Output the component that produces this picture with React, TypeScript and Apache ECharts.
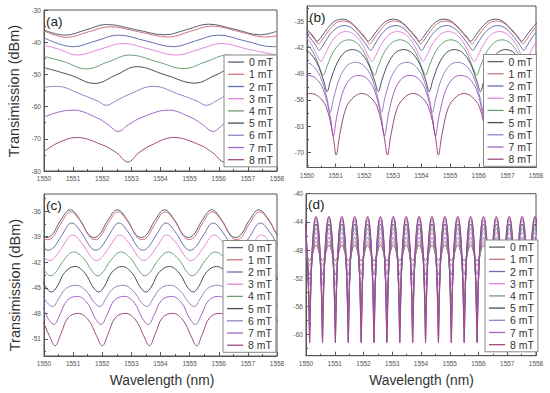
import React, { useEffect, useRef } from "react";
import * as echarts from "echarts";

const FIELDS = ["0 mT", "1 mT", "2 mT", "3 mT", "4 mT", "5 mT", "6 mT", "7 mT", "8 mT"];
const COLORS = ["#595e72", "#cc747c", "#6671ae", "#e286dc", "#6aa276", "#4c4c60", "#9484c6", "#a264c6", "#9c4a80"];
const WL_MIN = 1550;
const WL_MAX = 1558;

// ---------- panel (a): points ----------
const a0 = [[1550, -36.2], [1550.72, -37.8], [1551.43, -36.2], [1552.15, -34.5], [1553.15, -36.1], [1554.15, -37.7], [1554.9, -36.1], [1555.65, -34.4], [1556.55, -36.0], [1557.42, -37.7], [1558, -36.6]];
const a1 = [[1550, -36.5], [1550.78, -38.5], [1551.52, -36.8], [1552.27, -35.2], [1553.27, -36.8], [1554.27, -38.4], [1555.0, -36.7], [1555.76, -35.0], [1556.7, -36.7], [1557.6, -38.4], [1558, -38.0]];
const a2 = [[1550, -38.6], [1551.0, -41.4], [1551.78, -39.6], [1552.55, -37.8], [1553.5, -39.6], [1554.44, -41.4], [1555.2, -39.6], [1555.98, -37.8], [1556.9, -39.6], [1557.85, -41.4], [1558, -41.3]];
const a3 = [[1550, -40.9], [1550.55, -42.3], [1551.12, -44.0], [1551.92, -42.2], [1552.72, -40.4], [1553.63, -42.2], [1554.55, -44.0], [1555.33, -42.2], [1556.1, -40.4], [1557.0, -42.2], [1558, -44.0]];
const a4 = [[1550, -44.4], [1550.7, -46.1], [1551.46, -48.3], [1552.2, -46.1], [1552.95, -44.0], [1553.9, -46.1], [1554.8, -48.2], [1555.55, -46.1], [1556.3, -44.0], [1557.2, -46.1], [1558, -48.0]];
const a5 = [[1550, -47.9], [1550.9, -50.2], [1551.75, -52.8], [1552.47, -50.2], [1553.18, -47.6], [1554.18, -50.2], [1555.18, -52.7], [1555.9, -50.2], [1556.6, -47.6], [1557.5, -50.2], [1558, -51.8]];
const a6 = [[1550, -54.0], [1550.43, -53.7], [1551.3, -56.3], [1551.85, -58.3], [1552.15, -59.6], [1552.45, -58.3], [1552.95, -56.1], [1553.75, -53.7], [1554.67, -56.3], [1555.25, -58.3], [1555.58, -59.6], [1555.9, -58.3], [1556.35, -56.1], [1557.1, -53.7], [1558, -55.0]];
const a7 = [[1550, -63.3], [1550.5, -61.7], [1551.0, -61.1], [1551.8, -63.4], [1552.2, -65.6], [1552.55, -67.7], [1552.9, -65.6], [1553.4, -63.2], [1554.27, -61.1], [1555.05, -63.4], [1555.45, -65.6], [1555.8, -67.7], [1556.15, -65.6], [1556.7, -63.2], [1557.55, -61.1], [1558, -61.6]];
const a8 = [[1550, -74.0], [1550.45, -71.4], [1551.12, -69.6], [1552.0, -71.9], [1552.5, -74.4], [1552.88, -77.2], [1553.25, -74.4], [1553.7, -71.9], [1554.44, -69.6], [1555.35, -71.9], [1555.8, -74.4], [1556.2, -77.2], [1556.6, -74.4], [1557.0, -71.9], [1557.76, -69.6], [1558, -69.8]];
const A_SERIES = [a0, a1, a2, a3, a4, a5, a6, a7, a8];

// ---------- panel (b): fringe dips read per curve, and one fringe profile per curve ----------
const B_OFFSETS = [0, 0.12, 0.35, 0.62, 0.89, 1.16, 1.43, 1.665];
const B_DIPS = [
  [1548.58, 1550.36, 1552.15, 1553.93, 1555.72, 1557.5, 1559.29],
  [1548.62, 1550.4, 1552.19, 1553.97, 1555.76, 1557.54, 1559.33],
  [1548.65, 1550.43, 1552.22, 1554.0, 1555.79, 1557.57, 1559.36],
  [1548.71, 1550.49, 1552.28, 1554.06, 1555.85, 1557.63, 1559.42],
  [1548.79, 1550.57, 1552.36, 1554.14, 1555.93, 1557.71, 1559.5],
  [1548.92, 1550.7, 1552.49, 1554.27, 1556.06, 1557.84, 1559.63],
  [1549.03, 1550.81, 1552.6, 1554.38, 1556.17, 1557.95, 1559.74],
  [1549.14, 1550.92, 1552.71, 1554.49, 1556.28, 1558.06],
  [1549.24, 1551.02, 1552.81, 1554.59, 1556.37, 1558.15],
];
const B_PROFILES = [
  [-40.4, -39.4, -37.0, -35.0, -34.5, -35.3, -37.3, -39.3],
  [-41.1, -40.1, -37.6, -35.5, -35.0, -35.8, -37.9, -40.0],
  [-42.8, -41.6, -38.8, -36.8, -36.2, -37.0, -39.2, -41.6],
  [-45.8, -44.2, -40.8, -38.4, -37.8, -38.6, -41.0, -44.5],
  [-49.5, -47.2, -43.2, -40.7, -40.0, -40.8, -43.4, -47.6],
  [-53.8, -50.9, -46.2, -43.3, -42.6, -43.4, -46.2, -51.0],
  [-59.3, -55.5, -49.8, -46.7, -46.0, -46.8, -49.7, -55.4],
  [-65.6, -60.4, -53.5, -50.2, -49.5, -50.2, -53.3, -60.2],
  [-70.7, -65.4, -58.0, -55.2, -54.3, -55.1, -57.8, -65.3],
];

// ---------- panel (c) ----------
const C_OFFSETS = [0, 0.2, 0.45, 0.8, 1.15, 1.42];
const C_DIPS = [
  [1548.48, 1550.1, 1551.72, 1553.34, 1554.96, 1556.58, 1558.2],
  [1548.5, 1550.12, 1551.74, 1553.36, 1554.98, 1556.6, 1558.22],
  [1548.53, 1550.15, 1551.77, 1553.39, 1555.01, 1556.63, 1558.25],
  [1548.56, 1550.18, 1551.8, 1553.42, 1555.04, 1556.66, 1558.28],
  [1548.6, 1550.22, 1551.84, 1553.46, 1555.08, 1556.7, 1558.32],
  [1548.64, 1550.26, 1551.88, 1553.5, 1555.12, 1556.74, 1558.36],
  [1548.68, 1550.3, 1551.92, 1553.54, 1555.16, 1556.78, 1558.4],
  [1548.72, 1550.34, 1551.96, 1553.58, 1555.2, 1556.82, 1558.44],
  [1548.76, 1550.38, 1552.0, 1553.62, 1555.24, 1556.86, 1558.48],
];
const C_PROFILES = [
  [-39.1, -38.7, -37.2, -35.85, -37.1, -38.7],
  [-39.35, -39.0, -37.5, -36.1, -37.3, -38.9],
  [-40.6, -40.2, -38.9, -37.4, -38.6, -40.1],
  [-41.8, -41.4, -40.2, -38.8, -39.9, -41.3],
  [-43.6, -43.1, -41.8, -40.8, -41.6, -43.0],
  [-45.5, -44.8, -43.2, -42.5, -43.3, -44.9],
  [-47.2, -46.3, -45.1, -44.7, -45.4, -46.7],
  [-49.3, -48.2, -46.5, -46.0, -46.8, -48.6],
  [-51.8, -50.4, -48.5, -48.0, -48.8, -50.6],
];

// ---------- panel (d) ----------
const D_OFFSETS = [0, 0.013, 0.027, 0.045, 0.09, 0.134, 0.179, 0.224, 0.269, 0.314, 0.358, 0.403, 0.421, 0.435];
const D_DIPS = [1549.678, 1550.126, 1550.574, 1551.022, 1551.47, 1551.918, 1552.366, 1552.814, 1553.262, 1553.71, 1554.158, 1554.606, 1555.054, 1555.502, 1555.95, 1556.398, 1556.846, 1557.294, 1557.742, 1558.19];
const D_PROFILES = [
  [-49.5, -49.5, -49.4, -49.3, -48.7, -48.1, -47.5, -47.3, -47.5, -48.1, -48.7, -49.3, -49.4, -49.5],
  [-50.2, -50.2, -50.1, -49.9, -49.0, -48.0, -47.1, -46.8, -47.1, -48.0, -49.0, -49.9, -50.1, -50.2],
  [-51.5, -51.4, -51.2, -50.6, -48.9, -47.4, -46.5, -46.2, -46.5, -47.4, -48.9, -50.6, -51.2, -51.4],
  [-53.0, -52.8, -52.3, -51.4, -48.9, -47.0, -45.9, -45.5, -45.9, -47.0, -48.9, -51.4, -52.3, -52.8],
  [-55.0, -54.7, -53.8, -52.3, -48.8, -46.5, -45.3, -44.9, -45.3, -46.5, -48.8, -52.3, -53.8, -54.7],
  [-57.0, -56.4, -54.9, -52.7, -48.5, -46.0, -44.7, -44.3, -44.7, -46.0, -48.5, -52.7, -54.9, -56.4],
  [-59.0, -57.9, -55.7, -52.9, -48.2, -45.6, -44.2, -43.8, -44.2, -45.6, -48.2, -52.9, -55.7, -57.9],
  [-61.0, -59.2, -56.3, -52.9, -47.9, -45.2, -43.8, -43.4, -43.8, -45.2, -47.9, -52.9, -56.3, -59.2],
  [-61.2, -59.3, -56.2, -52.8, -47.7, -45.0, -43.6, -43.2, -43.6, -45.0, -47.7, -52.8, -56.2, -59.3],
];

// axis ticks
const WL_TICKS = [1550, 1551, 1552, 1553, 1554, 1555, 1556, 1557, 1558];
const A_TICKS = [-80, -70, -60, -50, -40, -30];
const A_MINOR = [-75, -65, -55, -45, -35];
const B_TICKS = [-70, -63, -56, -49, -42, -35];
const B_MINOR = [-73.5, -66.5, -59.5, -52.5, -45.5, -38.5, -31.5];
const C_TICKS = [-51, -48, -45, -42, -39, -36];
const C_MINOR = [-52.5, -49.5, -46.5, -43.5, -40.5, -37.5, -34.5];
const D_TICKS = [-60, -56, -52, -48, -44, -40];
const D_MINOR = [-62, -58, -54, -50, -46, -42];

function placeFringes(dips: number[], offsets: number[], profile: number[]) {
  const pts: number[][] = [];
  dips.forEach((d) => offsets.forEach((o, i) => pts.push([d + o, profile[i]])));
  return pts;
}

const FONT = "Liberation Sans, Arial, sans-serif";

const PANELS = [
  { grid: { left: 44, top: 10, width: 233, height: 161 }, yMin: -80, yMax: -30, ticks: A_TICKS, minor: A_MINOR, label: "(a)", legend: { left: 224, top: 55 }, smooth: 0.4,
    data: A_SERIES },
  { grid: { left: 307, top: 6, width: 229, height: 161.5 }, yMin: -74, yMax: -31, ticks: B_TICKS, minor: B_MINOR, label: "(b)", legend: { left: 483.5, top: 54.5 }, smooth: 0.35,
    data: B_PROFILES.map((p, k) => placeFringes(B_DIPS[k], B_OFFSETS, p)) },
  { grid: { left: 44, top: 194, width: 233, height: 162 }, yMin: -53, yMax: -34, ticks: C_TICKS, minor: C_MINOR, label: "(c)", legend: { left: 223, top: 240.5 }, smooth: 0.4,
    data: C_PROFILES.map((p, k) => placeFringes(C_DIPS[k], C_OFFSETS, p)) },
  { grid: { left: 306, top: 193.7, width: 230, height: 162 }, yMin: -63, yMax: -40, ticks: D_TICKS, minor: D_MINOR, label: "(d)", legend: { left: 485, top: 240 }, smooth: 0.15,
    data: D_PROFILES.map((p) => placeFringes(D_DIPS, D_OFFSETS, p)) },
];

function buildOption() {
  const grid: any[] = [];
  const xAxis: any[] = [];
  const yAxis: any[] = [];
  const series: any[] = [];
  const legend: any[] = [];
  const graphic: any[] = [];
  const axisColor = "#555";

  PANELS.forEach((P, p) => {
    grid.push({ ...P.grid, show: true, borderColor: axisColor, borderWidth: 1, backgroundColor: "#fff" });
    xAxis.push({
      type: "value", gridIndex: p, min: WL_MIN, max: WL_MAX, interval: 1,
      axisLine: { show: true, lineStyle: { color: axisColor, width: 1 } },
      axisTick: { show: true, inside: true, length: 4, lineStyle: { color: axisColor } },
      minorTick: { show: true, splitNumber: 2, length: 2, lineStyle: { color: axisColor } },
      axisLabel: { customValues: WL_TICKS, formatter: (v: number) => String(v), fontSize: 6.5, color: "#555", margin: 4, fontFamily: FONT },
      splitLine: { show: false },
    });
    yAxis.push({
      type: "value", gridIndex: p, position: "left", min: P.yMin, max: P.yMax,
      axisLine: { show: true, lineStyle: { color: axisColor, width: 1 } },
      axisTick: { show: true, inside: true, length: 4, customValues: P.ticks, lineStyle: { color: axisColor } },
      axisLabel: { customValues: P.ticks, formatter: (v: number) => String(v), fontSize: 6.5, color: "#555", margin: 3, fontFamily: FONT },
      splitLine: { show: false },
    });
    yAxis.push({
      type: "value", gridIndex: p, position: "left", min: P.yMin, max: P.yMax,
      axisLine: { show: false },
      axisTick: { show: true, inside: true, length: 2, customValues: P.minor, lineStyle: { color: axisColor } },
      axisLabel: { show: false },
      splitLine: { show: false },
    });
    P.data.forEach((d, k) => {
      series.push({
        type: "line", name: FIELDS[k], xAxisIndex: p, yAxisIndex: 2 * p, data: d,
        symbol: "none", smooth: P.smooth, silent: true, clip: true,
        color: COLORS[k], lineStyle: { width: 1, color: COLORS[k] },
      });
    });
    legend.push({
      left: P.legend.left, top: P.legend.top, orient: "vertical", data: FIELDS,
      backgroundColor: "#fff", borderColor: "#888", borderWidth: 1, borderRadius: 0,
      padding: [1, 4, 1, 4], itemGap: 0, itemWidth: 16, itemHeight: 1.3, icon: "rect",
      textStyle: { fontSize: 10.5, color: "#333", lineHeight: 12.2, fontFamily: FONT },
      selectedMode: false,
    });
    graphic.push({
      type: "text", left: P.grid.left + 2, top: P.grid.top + 4, z: 100,
      style: { text: P.label, fontSize: 13.5, fill: "#222", fontFamily: FONT },
    });
  });

  graphic.push(
    { type: "text", x: 13.5, y: 91, rotation: Math.PI / 2, z: 100,
      style: { text: "Transimission (dBm)", fontSize: 14.5, fill: "#333", fontFamily: FONT, align: "center", verticalAlign: "middle" } },
    { type: "text", x: 14.5, y: 285, rotation: Math.PI / 2, z: 100,
      style: { text: "Transimission (dBm)", fontSize: 14.5, fill: "#333", fontFamily: FONT, align: "center", verticalAlign: "middle" } },
    { type: "text", x: 162, y: 380, z: 100,
      style: { text: "Wavelength (nm)", fontSize: 13.8, fill: "#333", fontFamily: FONT, align: "center", verticalAlign: "middle" } },
    { type: "text", x: 421.5, y: 380, z: 100,
      style: { text: "Wavelength (nm)", fontSize: 13.8, fill: "#333", fontFamily: FONT, align: "center", verticalAlign: "middle" } },
  );

  return {
    animation: false,
    backgroundColor: "#fff",
    textStyle: { fontFamily: FONT },
    grid, xAxis, yAxis, series, legend, graphic,
  };
}

export default function App() {
  const ref = useRef<HTMLDivElement>(null);
  useEffect(() => {
    if (!ref.current) return;
    const chart = echarts.init(ref.current, null, { renderer: "svg" });
    chart.setOption(buildOption() as any);
    return () => chart.dispose();
  }, []);
  return <div ref={ref} style={{ position: "fixed", left: 0, top: 0, width: 550, height: 393 }} />;
}
